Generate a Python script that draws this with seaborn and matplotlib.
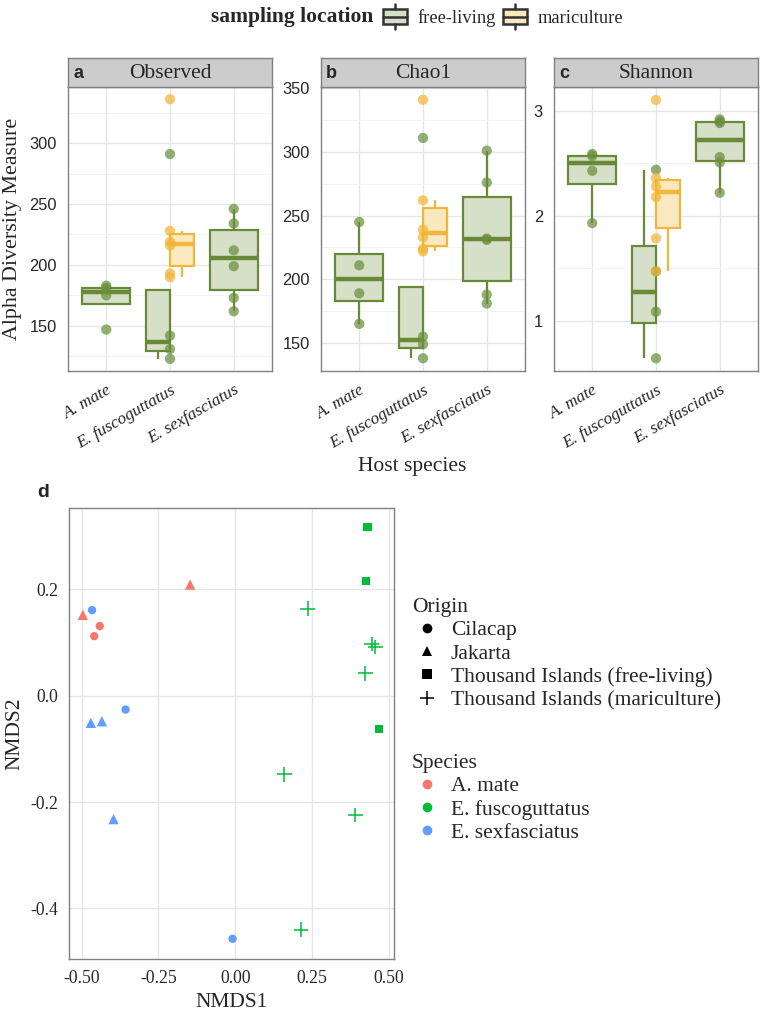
# Alpha diversity (a-c) and NMDS ordination (d) of grouper gut samples

import numpy as np
import pandas as pd
import matplotlib
matplotlib.use("Agg")
import matplotlib.pyplot as plt
import seaborn as sns
from matplotlib.lines import Line2D
from matplotlib.patches import Rectangle, Patch
from matplotlib.legend_handler import HandlerBase
from matplotlib.ticker import MultipleLocator

sns.set_style("white")
plt.rcParams["font.family"] = ["Liberation Serif", "DejaVu Serif"]

species = ["A. mate", "E. fuscoguttatus", "E. sexfasciatus"]
locations = ["free-living", "mariculture"]
measures = ["Observed", "Chao1", "Shannon"]
letters = ["a", "b", "c"]

# alpha diversity values
obs_amate = [147, 175, 181, 183]
obs_fusc_free = [123, 131, 142, 291]
obs_fusc_mari = [190, 193, 216, 219, 228, 336]
obs_sex = [162, 173, 199, 212, 234, 246]

chao_amate = [165, 189, 211, 245]
chao_fusc_free = [138, 149, 155, 311]
chao_fusc_mari = [222, 224, 233, 239, 262, 341]
chao_sex = [181, 188, 231, 232, 276, 301]

shan_amate = [1.93, 2.43, 2.57, 2.59]
shan_fusc_free = [0.64, 1.085, 1.47, 2.44]
shan_fusc_mari = [1.47, 1.785, 2.18, 2.28, 2.36, 3.105]
shan_sex = [2.22, 2.51, 2.56, 2.885, 2.90, 2.92]

# NMDS ordination
nmds1 = [-0.147, -0.496, -0.441, -0.459,
         -0.466, -0.357, -0.470, -0.434, -0.396, -0.009,
         0.430, 0.424, 0.468,
         0.235, 0.443, 0.455, 0.423, 0.159, 0.390, 0.213]
nmds2 = [0.209, 0.152, 0.131, 0.112,
         0.161, -0.026, -0.051, -0.048, -0.232, -0.457,
         0.317, 0.216, -0.063,
         0.164, 0.097, 0.092, 0.042, -0.148, -0.224, -0.440]
origin = ["Jakarta", "Jakarta", "Cilacap", "Cilacap",
          "Cilacap", "Cilacap", "Jakarta", "Jakarta", "Jakarta", "Cilacap"] + \
         ["Thousand Islands (free-living)"] * 3 + ["Thousand Islands (mariculture)"] * 7
species_d = ["A. mate"] * 4 + ["E. sexfasciatus"] * 6 + ["E. fuscoguttatus"] * 10
origins = ["Cilacap", "Jakarta", "Thousand Islands (free-living)", "Thousand Islands (mariculture)"]
origin_markers = {"Cilacap": "o", "Jakarta": "^",
                  "Thousand Islands (free-living)": "s", "Thousand Islands (mariculture)": "+"}
origin_sizes = {"Cilacap": 36, "Jakarta": 55,
                "Thousand Islands (free-living)": 36, "Thousand Islands (mariculture)": 110}

groups = [
    ("Observed", "A. mate", "free-living", obs_amate),
    ("Observed", "E. fuscoguttatus", "free-living", obs_fusc_free),
    ("Observed", "E. fuscoguttatus", "mariculture", obs_fusc_mari),
    ("Observed", "E. sexfasciatus", "free-living", obs_sex),
    ("Chao1", "A. mate", "free-living", chao_amate),
    ("Chao1", "E. fuscoguttatus", "free-living", chao_fusc_free),
    ("Chao1", "E. fuscoguttatus", "mariculture", chao_fusc_mari),
    ("Chao1", "E. sexfasciatus", "free-living", chao_sex),
    ("Shannon", "A. mate", "free-living", shan_amate),
    ("Shannon", "E. fuscoguttatus", "free-living", shan_fusc_free),
    ("Shannon", "E. fuscoguttatus", "mariculture", shan_fusc_mari),
    ("Shannon", "E. sexfasciatus", "free-living", shan_sex),
]
df = pd.DataFrame([(m, s, l, v) for m, s, l, vals in groups for v in vals],
                  columns=["measure", "species", "location", "value"])
df["xpos"] = df["species"].map({s: i for i, s in enumerate(species)})

edge_col = {"free-living": "#688938", "mariculture": "#f0b73c"}
fill_col = {"free-living": "#d6e0c8", "mariculture": "#fae8be"}
point_col = {"free-living": "#6a8f3c", "mariculture": "#f4b434"}
sp_pal = {"A. mate": "#F8766D", "E. fuscoguttatus": "#00BA38", "E. sexfasciatus": "#619CFF"}

ylims = {"Observed": (113, 346), "Chao1": (128, 351), "Shannon": (0.519, 3.229)}
yticks = {"Observed": [150, 200, 250, 300], "Chao1": [150, 200, 250, 300, 350], "Shannon": [1, 2, 3]}
yminor = {"Observed": 25, "Chao1": 25, "Shannon": 0.5}

W, H = 760, 1011
fig = plt.figure(figsize=(W / 100, H / 100), dpi=100)


def fx(px):
    return px / W


def fy(py):
    return 1 - py / H


panel_left = [68, 321, 554]
panel_w = 204
grid_c = "#e6e6e6"
border_c = "#808080"

for k, m in enumerate(measures):
    ax = fig.add_axes([fx(panel_left[k]), fy(371), fx(panel_w), (371 - 87) / H])
    d = df[df["measure"] == m]
    for (s, l), sub in d.groupby(["species", "location"]):
        i = species.index(s)
        n_loc = d.loc[d["species"] == s, "location"].nunique()
        if n_loc == 1:
            pos, w = i, 0.75
        else:
            pos = i - 0.1875 if l == "free-living" else i + 0.1875
            w = 0.375
        sns.boxplot(x=np.full(len(sub), pos), y=sub["value"].values, native_scale=True,
                    orient="x", width=w, color=fill_col[l], saturation=1,
                    linecolor=edge_col[l], linewidth=1.6, showfliers=False, showcaps=False,
                    medianprops={"linewidth": 3.2, "color": edge_col[l]}, ax=ax)
    sns.stripplot(data=d, x="xpos", y="value", hue="location", hue_order=locations,
                  palette=point_col, native_scale=True, jitter=False, size=7.4,
                  alpha=0.72, linewidth=0, legend=False, ax=ax)
    ax.set_xlim(-0.6, 2.6)
    ax.set_ylim(*ylims[m])
    ax.set_xticks([0, 1, 2])
    ax.set_xticklabels(species, rotation=30, ha="right", rotation_mode="anchor",
                       style="italic", fontsize=12.4)
    ax.set_yticks(yticks[m])
    ax.set_yticklabels([str(t) for t in yticks[m]], family="Liberation Sans", fontsize=11.8)
    ax.yaxis.set_minor_locator(MultipleLocator(yminor[m]))
    ax.set_axisbelow(True)
    ax.grid(True, which="major", color=grid_c, lw=1.0)
    ax.grid(True, which="minor", axis="y", color="#f3f3f3", lw=0.7)
    ax.tick_params(which="major", length=5, width=1.2, color="#333333", pad=3)
    ax.tick_params(which="minor", length=0)
    ax.set_xlabel("")
    ax.set_ylabel("")
    for sp in ax.spines.values():
        sp.set_color(border_c)
        sp.set_linewidth(1.0)

    # strip header
    st = fig.add_axes([fx(panel_left[k]), fy(87), fx(panel_w), (87 - 58) / H])
    st.set_facecolor("#cccccc")
    st.set_xticks([])
    st.set_yticks([])
    for sp in st.spines.values():
        sp.set_color(border_c)
        sp.set_linewidth(1.0)
    st.text(0.5, 0.45, m, ha="center", va="center", fontsize=15.5, transform=st.transAxes)
    st.text(0.025, 0.45, letters[k], ha="left", va="center", fontsize=13, weight="bold",
            family="Liberation Sans", transform=st.transAxes)

fig.text(fx(13), fy(229), "Alpha Diversity Measure", rotation=90, ha="center", va="center",
         fontsize=15.8)
fig.text(fx(412), fy(466), "Host species", ha="center", va="center", fontsize=15.5)


# top legend with box-shaped keys
class BoxKey(HandlerBase):
    def create_artists(self, legend, orig_handle, xdescent, ydescent, width, height,
                       fontsize, trans):
        x0, y0 = -xdescent, -ydescent
        ec = "#333333"
        rect = Rectangle((x0, y0 + 0.12 * height), width, 0.76 * height,
                         facecolor=orig_handle.get_facecolor(), edgecolor=ec, lw=1.8,
                         transform=trans)
        mid = Line2D([x0, x0 + width], [y0 + 0.5 * height] * 2, color=ec, lw=1.8,
                     transform=trans)
        w1 = Line2D([x0 + width / 2] * 2, [y0 - 0.14 * height, y0 + 0.12 * height],
                    color=ec, lw=1.8, transform=trans)
        w2 = Line2D([x0 + width / 2] * 2, [y0 + 0.88 * height, y0 + 1.14 * height],
                    color=ec, lw=1.8, transform=trans)
        return [rect, mid, w1, w2]


fig.text(fx(373), fy(17), "sampling location", ha="right", va="center", fontsize=15.5,
         weight="bold")
top_handles = [Patch(facecolor=fill_col[l]) for l in locations]
fig.legend(top_handles, locations, loc="center left", bbox_to_anchor=(fx(383), fy(17)),
           ncol=2, frameon=False, fontsize=13.3, handler_map={Patch: BoxKey()},
           handlelength=1.3, handleheight=1.2, handletextpad=0.55, columnspacing=0.4,
           borderpad=0, borderaxespad=0)

# panel d: NMDS
axd = fig.add_axes([fx(69), fy(959), fx(394 - 69), (959 - 508) / H])
for o in origins:
    idx = [j for j, v in enumerate(origin) if v == o]
    xs = [nmds1[j] for j in idx]
    ys = [nmds2[j] for j in idx]
    hs = [species_d[j] for j in idx]
    mk = origin_markers[o]
    sns.scatterplot(x=xs, y=ys, hue=hs, palette=sp_pal, marker=mk, s=origin_sizes[o],
                    linewidth=1.1 if mk == "+" else 0, legend=False, ax=axd)
axd.set_xlim(-0.541, 0.516)
axd.set_ylim(-0.495, 0.353)
axd.set_xticks([-0.5, -0.25, 0, 0.25, 0.5])
axd.set_xticklabels(["-0.50", "-0.25", "0.00", "0.25", "0.50"], fontsize=12.7)
axd.set_yticks([-0.4, -0.2, 0.0, 0.2])
axd.set_yticklabels(["-0.4", "-0.2", "0.0", "0.2"], fontsize=12.7)
axd.set_axisbelow(True)
axd.grid(True, color=grid_c, lw=1.0)
axd.tick_params(length=5, width=1.2, color="#333333", pad=3)
for sp in axd.spines.values():
    sp.set_color(border_c)
    sp.set_linewidth(1.0)
axd.set_xlabel("NMDS1", fontsize=15.5, labelpad=4)
axd.set_ylabel("NMDS2", fontsize=15.5, labelpad=4)
fig.text(fx(37), fy(493), "d", ha="left", va="center", fontsize=14, weight="bold",
         family="Liberation Sans")

origin_handles = [Line2D([], [], ls="", marker=origin_markers[o], color="black",
                         markersize=7 if origin_markers[o] != "+" else 10,
                         markeredgewidth=1.1 if origin_markers[o] == "+" else 0)
                  for o in origins]
fig.legend(origin_handles, origins, title="Origin", loc="upper left",
           bbox_to_anchor=(fx(412), fy(598)), frameon=False, fontsize=15.5,
           title_fontsize=15.5, alignment="left", labelspacing=0.15,
           handletextpad=0.4, handlelength=1.4, borderpad=0, borderaxespad=0)
sp_handles = [Line2D([], [], ls="", marker="o", color=sp_pal[s], markersize=7,
                     markeredgewidth=0) for s in species]
fig.legend(sp_handles, species, title="Species", loc="upper left",
           bbox_to_anchor=(fx(412), fy(754)), frameon=False, fontsize=15.5,
           title_fontsize=15.5, alignment="left", labelspacing=0.15,
           handletextpad=0.4, handlelength=1.4, borderpad=0, borderaxespad=0)

fig.savefig("out.png", dpi=100)
